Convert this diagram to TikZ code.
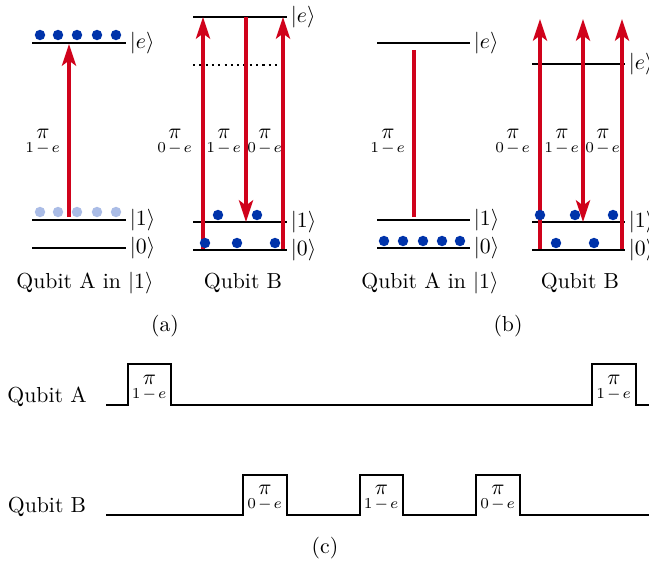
\documentclass[tikz,border=0pt]{standalone}
\usetikzlibrary{arrows.meta}
\definecolor{myred}{RGB}{208,2,27}
\definecolor{dotblue}{RGB}{0,51,170}
\definecolor{lightdot}{RGB}{170,188,230}
\begin{document}
\begin{tikzpicture}[x=0.46pt,y=-0.46pt,
  level/.style={line width=1.15pt},
  dotlevel/.style={line width=1.1pt,dash pattern=on 1pt off 1.9pt},
  lbl/.style={anchor=west,inner sep=1.2pt},
  trans/.style={draw=myred,line width=1.4pt,-{Stealth[length=10pt,width=6.5pt,inset=2.4pt]}},
  transboth/.style={draw=myred,line width=1.4pt,{Stealth[length=10pt,width=6.5pt,inset=2.4pt]}-{Stealth[length=10pt,width=6.5pt,inset=2.4pt]}},
  plainline/.style={draw=myred,line width=1.4pt},
  pop/.style={fill=dotblue,draw=none},
  ghost/.style={fill=lightdot,draw=none},
  pilabel/.style={inner sep=0pt,align=center},
  pulse/.style={line width=0.8pt},
  captext/.style={inner sep=0pt}
]
\useasboundingbox (0,0) rectangle (649,562);
\newcommand{\pil}[2]{$\mathop{\pi}\limits_{#1\mkern2mu-\mkern2mu#2}$}
\newcommand{\popdot}[3][pop]{\fill[#1] (#2,#3) circle[radius=2.4pt];}

% ---------- (a) Qubit A ----------
\draw[level] (32,43) -- (126,43) node[lbl] (aAe) {$|e\rangle$};
\draw[level] (32,220) -- (126,220) node[lbl] (aA1) {$|1\rangle$};
\draw[level] (32,248) -- (126,248) node[lbl] (aA0) {$|0\rangle$};
\coordinate (aAs) at (69,217);
\coordinate (aAt) at (69,44);
\draw[trans] (aAs) -- (aAt);
\foreach \x in {40,58,77,97,116} {\popdot{\x}{35} \popdot[ghost]{\x}{212}}
\node[pilabel] (aApi) at (43,143) {\pil{1}{e}};
\node[captext] (aAcap) at (85,283) {Qubit A in $|1\rangle$};

% ---------- (a) Qubit B ----------
\draw[level] (193,17) -- (287,17) node[lbl] (aBe) {$|e\rangle$};
\draw[dotlevel] (193,65) -- (287,65);
\draw[level] (193,222) -- (287,222) node[lbl] (aB1) {$|1\rangle$};
\draw[level] (193,250) -- (287,250) node[lbl] (aB0) {$|0\rangle$};
\coordinate (aB1s) at (203,249); \coordinate (aB1t) at (203,17);
\coordinate (aB2s) at (246,17);  \coordinate (aB2t) at (246,222);
\coordinate (aB3s) at (283,249); \coordinate (aB3t) at (283,17);
\draw[trans] (aB1s) -- (aB1t);
\draw[trans] (aB2s) -- (aB2t);
\draw[trans] (aB3s) -- (aB3t);
\foreach \x in {218,257} {\popdot{\x}{215}}
\foreach \x in {205,237,275} {\popdot{\x}{243}}
\node[pilabel] (aBpi1) at (175,143) {\pil{0}{e}};
\node[pilabel] (aBpi2) at (224,143) {\pil{1}{e}};
\node[pilabel] (aBpi3) at (265,143) {\pil{0}{e}};
\node[captext] (aBcap) at (243,283) {Qubit B};

\node[captext] (capa) at (165,326) {(a)};

% ---------- (b) Qubit A ----------
\draw[level] (377,43) -- (470,43) node[lbl] (bAe) {$|e\rangle$};
\draw[level] (377,220) -- (470,220) node[lbl] (bA1) {$|1\rangle$};
\draw[level] (377,248) -- (470,248) node[lbl] (bA0) {$|0\rangle$};
\coordinate (bAs) at (414,217);
\coordinate (bAt) at (414,50);
\draw[plainline] (bAs) -- (bAt);
\foreach \x in {384,403,423,442,460} {\popdot{\x}{241}}
\node[pilabel] (bApi) at (388,143) {\pil{1}{e}};
\node[captext] (bAcap) at (430,283) {Qubit A in $|1\rangle$};

% ---------- (b) Qubit B ----------
\draw[level] (532,64) -- (625,64) node[lbl] (bBe) {$|e\rangle$};
\draw[level] (532,222) -- (625,222) node[lbl] (bB1) {$|1\rangle$};
\draw[level] (532,250) -- (625,250) node[lbl] (bB0) {$|0\rangle$};
\coordinate (bB1s) at (540,249); \coordinate (bB1t) at (540,19);
\coordinate (bB2s) at (583,222); \coordinate (bB2t) at (583,19);
\coordinate (bB3s) at (622,249); \coordinate (bB3t) at (622,19);
\draw[trans] (bB1s) -- (bB1t);
\draw[transboth] (bB2s) -- (bB2t);
\draw[trans] (bB3s) -- (bB3t);
\foreach \x in {540,575,613} {\popdot{\x}{215}}
\foreach \x in {556,594} {\popdot{\x}{243}}
\node[pilabel] (bBpi1) at (513,143) {\pil{0}{e}};
\node[pilabel] (bBpi2) at (562,143) {\pil{1}{e}};
\node[pilabel] (bBpi3) at (603,143) {\pil{0}{e}};
\node[captext] (bBcap) at (580,283) {Qubit B};

\node[captext] (capb) at (508,326) {(b)};

% ---------- (c) pulse sequences ----------
\node[captext] (cA) at (47,397) {Qubit A};
\draw[pulse] (106,405) -- (128,405) -- (128,364) -- (171,364) -- (171,405)
  -- (592,405) -- (592,364) -- (636,364) -- (636,405) -- (649,405);
\node[pilabel] (cA1) at (149.5,389) {\pil{1}{e}};
\node[pilabel] (cA2) at (614,389) {\pil{1}{e}};

\node[captext] (cB) at (47,507) {Qubit B};
\draw[pulse] (106,515) -- (243,515) -- (243,475) -- (287,475) -- (287,515)
  -- (360,515) -- (360,475) -- (403,475) -- (403,515)
  -- (476,515) -- (476,475) -- (520,475) -- (520,515) -- (649,515);
\node[pilabel] (cB1) at (265,499) {\pil{0}{e}};
\node[pilabel] (cB2) at (381.5,499) {\pil{1}{e}};
\node[pilabel] (cB3) at (498,499) {\pil{0}{e}};

\node[captext] (capc) at (325,548) {(c)};
\end{tikzpicture}
\end{document}
